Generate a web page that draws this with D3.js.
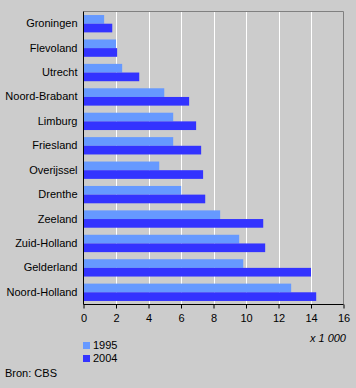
<!DOCTYPE html>
<html><head><meta charset="utf-8">
<script src="https://cdn.jsdelivr.net/npm/d3@7"></script>
<style>
html,body{margin:0;padding:0;background:#cccccc;}
svg{display:block;font-family:"Liberation Sans",Arial,sans-serif;}
</style></head>
<body>
<svg id="c" width="356" height="388"></svg>
<script>
const categories = ["Groningen","Flevoland","Utrecht","Noord-Brabant","Limburg","Friesland","Overijssel","Drenthe","Zeeland","Zuid-Holland","Gelderland","Noord-Holland"];
const values1995 = [1.27,2.0,2.38,4.97,5.52,5.52,4.66,6.01,8.41,9.58,9.83,12.78];
const values2004 = [1.77,2.07,3.43,6.5,6.93,7.24,7.36,7.49,11.06,11.18,14.0,14.32];
const seriesNames = ["1995","2004"];
const colors = ["#6699ff","#3333ff"];
const xTicks = [0,2,4,6,8,10,12,14,16];

(function(){
const svg = d3.select("#c");
const mL = 83.5, mR = 343.5, mT = 11.5, mB = 304.5;
const x = d3.scaleLinear().domain([0,16]).range([mL,mR]);
const y = d3.scaleBand().domain(categories).range([mT,mB]).paddingInner(0.29).paddingOuter(0.145);
const y1 = d3.scaleBand().domain(seriesNames).range([0,y.bandwidth()]);

svg.append("rect").attr("width",356).attr("height",388).attr("fill","#cccccc");

// gridlines
svg.append("g").selectAll("line").data(xTicks.filter(d=>d>0&&d<16)).join("line")
  .attr("x1",d=>Math.round(x(d))+0.5).attr("x2",d=>Math.round(x(d))+0.5)
  .attr("y1",mT).attr("y2",mB).attr("stroke","#ffffff").attr("stroke-width",1);

// border top/right
svg.append("path").attr("d",`M${mL},${mT}H${mR}V${mB}`).attr("fill","none").attr("stroke","#808080").attr("stroke-width",1);

// bars
const series = [values1995, values2004];
const g = svg.append("g");
categories.forEach((c,i)=>{
  series.forEach((vals,s)=>{
    g.append("rect")
      .attr("x",x(0)).attr("y",y(c)+y1(seriesNames[s]))
      .attr("width",x(vals[i])-x(0)).attr("height",y1.bandwidth())
      .attr("fill",colors[s]);
  });
});

// axes
const xAxis = d3.axisBottom(x).tickValues(xTicks).tickSize(4).tickPadding(6).tickFormat(d3.format("d"));
const ax = svg.append("g").attr("transform",`translate(0,${mB})`).call(xAxis);
ax.select(".domain").attr("stroke","#000").attr("d",`M${mL},0H${mR}`);
ax.selectAll(".tick line").attr("stroke","#000");
ax.selectAll("text").attr("font-size","11px").attr("fill","#000").attr("font-family","Liberation Sans, Arial, sans-serif");

const yAxis = d3.axisLeft(y).tickSize(0).tickPadding(6);
const ay = svg.append("g").attr("transform",`translate(${mL},0)`).call(yAxis);
ay.select(".domain").attr("stroke","#000").attr("d",`M0,${mT}V${mB}`);
ay.selectAll("text").attr("font-size","11px").attr("fill","#000").attr("font-family","Liberation Sans, Arial, sans-serif");

// unit label
svg.append("text").attr("x",346).attr("y",342).attr("text-anchor","end")
  .attr("font-size","11px").attr("font-style","italic").text("x 1 000");

// legend
seriesNames.forEach((n,i)=>{
  svg.append("rect").attr("x",83).attr("y",342+i*13).attr("width",7).attr("height",7).attr("fill",colors[i]);
  svg.append("text").attr("x",93).attr("y",349+i*13).attr("font-size","11px").text(n);
});

svg.append("text").attr("x",5).attr("y",377).attr("font-size","11px").text("Bron: CBS");
})();
</script>
</body></html>
